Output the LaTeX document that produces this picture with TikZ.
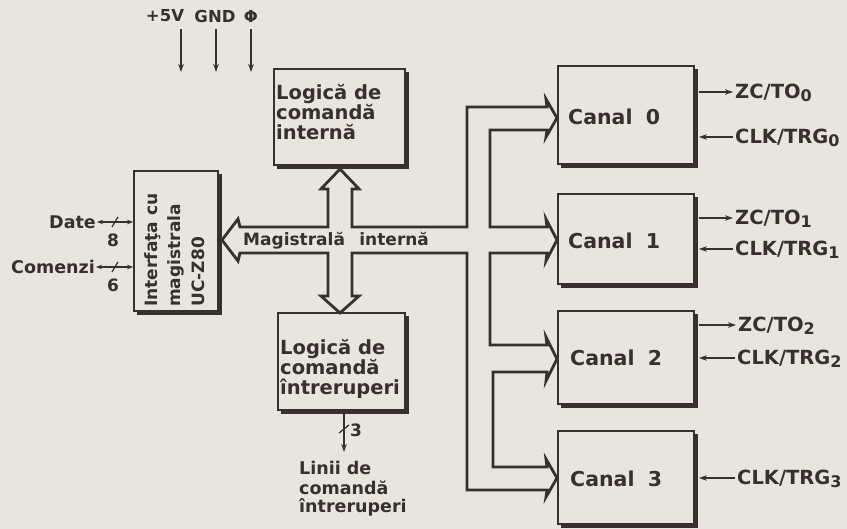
\documentclass[tikz,border=0pt]{standalone}
\usepackage{fontspec}
\setmainfont{DejaVu Sans}[BoldFont={DejaVu Sans Bold}]
\usetikzlibrary{arrows.meta}
\definecolor{ink}{RGB}{55,48,46}
\definecolor{paper}{RGB}{232,228,222}
\newcommand\boxshadow[1]{\draw[shad] ([xshift=1pt,yshift=-4pt]#1.north east) -- ([xshift=1pt,yshift=-1pt]#1.south east) -- ([xshift=4pt,yshift=-1pt]#1.south west);}
\newcommand\lowsub[1]{\raisebox{-3pt}{\fontsize{16}{16}\selectfont\bfseries #1}}
\begin{document}
\begin{tikzpicture}[x=1pt,y=-1pt,
  every node/.style={text=ink, inner sep=0pt},
  blk/.style={draw=ink, line width=1.8pt},
  shad/.style={draw=ink, line width=5pt},
  bus/.style={draw=ink, line width=2.8pt, line join=miter},
  sig/.style={draw=ink, line width=1.7pt},
  tip/.style={-{Stealth[length=8pt,width=5.5pt]}},
  dtip/.style={{Stealth[length=6pt,width=4.5pt]}-{Stealth[length=6pt,width=4.5pt]}},
  boxtxt/.style={font=\fontsize{19.5}{24}\selectfont\bfseries, anchor=base west},
  chtxt/.style={font=\fontsize{20.5}{24}\selectfont\bfseries, anchor=base west},
  lbl/.style={font=\fontsize{19.5}{24}\selectfont\bfseries, anchor=west, text height=19pt, text depth=5pt},
  small/.style={font=\fontsize{17}{22}\selectfont\bfseries},
  supply/.style={font=\fontsize{16.5}{20}\selectfont\bfseries},
]
\fill[paper] (0,0) rectangle (847,529);
\useasboundingbox (0,0) rectangle (847,529);

% blocks
\node[blk, minimum width=84pt, minimum height=140pt] (intf) at (176,241) {};
\node[blk, minimum width=131pt, minimum height=96pt] (lint) at (339.5,117) {};
\node[blk, minimum width=127pt, minimum height=97pt] (lintr) at (341.5,361.5) {};
\node[blk, minimum width=136pt, minimum height=98pt] (c0) at (626,115) {};
\node[blk, minimum width=136pt, minimum height=90pt] (c1) at (626,239) {};
\node[blk, minimum width=136pt, minimum height=93pt] (c2) at (626,357.5) {};
\node[blk, minimum width=136pt, minimum height=93pt] (c3) at (626,477.5) {};
\boxshadow{intf}
\boxshadow{lint}
\boxshadow{lintr}
\boxshadow{c0}
\boxshadow{c1}
\boxshadow{c2}
\boxshadow{c3}

% block texts
\node[boxtxt] (t1a) at (276,100) {Logică de};
\node[boxtxt] (t1b) at (276,120) {comandă};
\node[boxtxt] (t1c) at (276,140) {internă};
\node[boxtxt] (t2a) at (280,355) {Logică de};
\node[boxtxt] (t2b) at (280,375) {comandă};
\node[boxtxt] (t2c) at (280,395) {întreruperi};
\node[chtxt] (tc0) at (568,125) {Canal\hspace{0.3em} 0};
\node[chtxt] (tc1) at (568,249) {Canal\hspace{0.3em} 1};
\node[chtxt] (tc2) at (570,366) {Canal\hspace{0.3em} 2};
\node[chtxt] (tc3) at (570,487) {Canal\hspace{0.3em} 3};
\node[small, rotate=90, anchor=base west] (ti1) at (157,307) {Interfaţa cu};
\node[small, rotate=90, anchor=base west] (ti2) at (180,307) {magistrala};
\node[small, rotate=90, anchor=base west] (ti3) at (204,307) {UC-Z80};

% internal bus outline
\draw[bus] (328,189) -- (321,189) -- (340,169) -- (359,189) -- (352,189)
  -- (352,227) -- (467,227) -- (467,107) -- (547,107) -- (546,99) -- (557,118) -- (546,137) -- (547,130)
  -- (490,130) -- (490,227) -- (547,227) -- (546,219) -- (557,240) -- (546,261) -- (547,253)
  -- (490,253) -- (490,345) -- (547,345) -- (546,337) -- (557,359) -- (546,381) -- (547,372)
  -- (493,372) -- (493,467) -- (547,467) -- (546,459) -- (557,478) -- (546,497) -- (547,490)
  -- (467,490) -- (467,253) -- (352,253) -- (352,296) -- (359,296) -- (340,313) -- (321,296) -- (328,296)
  -- (328,253) -- (240,253) -- (238,261) -- (222,240) -- (238,219) -- (240,227) -- (328,227) -- cycle;
\node[small, anchor=base west] (mag) at (243,246) {Magistrală\hspace{0.5em} internă};

% supply
\node[supply] (v5) at (165,16) {+5V};
\node[supply] (gnd) at (215,16) {GND};
\node[supply] (phi) at (251,16) {Φ};
\coordinate (e1) at (181,72);
\coordinate (e2) at (216,72);
\coordinate (e3) at (251,72);
\draw[sig, tip, shorten <=7pt] (v5.south -| e1) -- (e1);
\draw[sig, tip, shorten <=7pt] (gnd.south -| e2) -- (e2);
\draw[sig, tip, shorten <=7pt] (phi.south) -- (e3);

% left signals
\node[small, font=\fontsize{17.5}{22}\selectfont\bfseries, anchor=east] (date) at (96,222) {Date};
\node[small, font=\fontsize{17.5}{22}\selectfont\bfseries, anchor=east] (com) at (95,267) {Comenzi};
\draw[sig, dtip, shorten <=1pt] (date.east) -- (date.east -| intf.west);
\draw[sig, dtip, shorten <=1pt] (com.east) -- (com.east -| intf.west);
\draw[sig, line width=1.2pt] (112,227) -- (118,217);
\draw[sig, line width=1.2pt] (112,272) -- (118,262);
\node[small] (n8) at (113,240) {8};
\node[small] (n6) at (113,285) {6};

% interrupt lines
\coordinate (e4) at (344,452);
\draw[sig, tip, shorten <=2pt] (lintr.south -| e4) -- (e4);
\draw[sig, line width=1.2pt] (339,433) -- (349,425);
\node[small, anchor=west] (n3) at (350,430) {3};
\node[small, font=\fontsize{17.5}{22}\selectfont\bfseries, anchor=base west] (l1) at (299,475) {Linii de};
\node[small, font=\fontsize{17.5}{22}\selectfont\bfseries, anchor=base west] (l2) at (299,494) {comandă};
\node[small, font=\fontsize{17.5}{22}\selectfont\bfseries, anchor=base west] (l3) at (299,513) {întreruperi};

% channel outputs and inputs
\node[lbl] (zc0) at (735,92) {ZC/TO\lowsub{0}};
\node[lbl] (ck0) at (735,137) {CLK/TRG\lowsub{0}};
\node[lbl] (zc1) at (735,218) {ZC/TO\lowsub{1}};
\node[lbl] (ck1) at (735,249) {CLK/TRG\lowsub{1}};
\node[lbl] (zc2) at (738,325) {ZC/TO\lowsub{2}};
\node[lbl] (ck2) at (737,358) {CLK/TRG\lowsub{2}};
\node[lbl] (ck3) at (737,478) {CLK/TRG\lowsub{3}};
\draw[sig, tip, shorten <=4pt, shorten >=2pt] (c0.east |- zc0.west) -- (zc0.west);
\draw[sig, tip, shorten <=2pt, shorten >=4pt] (ck0.west) -- (c0.east |- ck0.west);
\draw[sig, tip, shorten <=4pt, shorten >=2pt] (c1.east |- zc1.west) -- (zc1.west);
\draw[sig, tip, shorten <=2pt, shorten >=4pt] (ck1.west) -- (c1.east |- ck1.west);
\draw[sig, tip, shorten <=4pt, shorten >=2pt] (c2.east |- zc2.west) -- (zc2.west);
\draw[sig, tip, shorten <=2pt, shorten >=4pt] (ck2.west) -- (c2.east |- ck2.west);
\draw[sig, tip, shorten <=2pt, shorten >=4pt] (ck3.west) -- (c3.east |- ck3.west);
\end{tikzpicture}
\end{document}
